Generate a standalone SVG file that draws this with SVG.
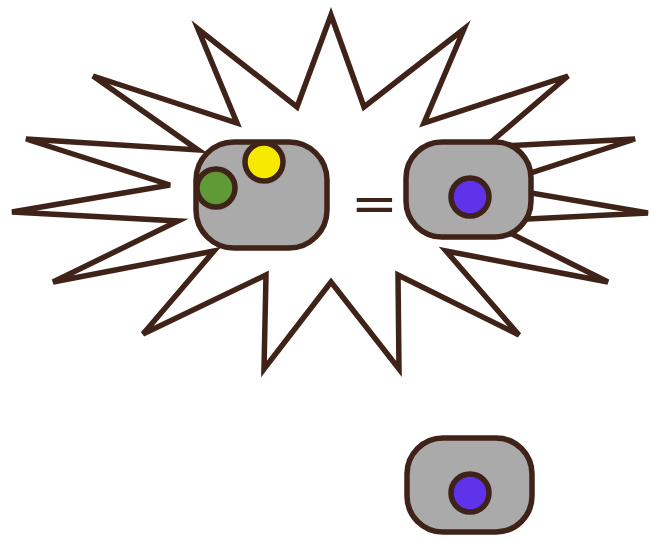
<svg xmlns="http://www.w3.org/2000/svg" width="651" height="540" viewBox="0 0 651 540">
<style>
.ln{stroke:#3f2318;stroke-width:5.5;stroke-linejoin:miter;stroke-miterlimit:4}
.star{fill:#ffffff}
.box{fill:#aaaaaa}
.eq{font-family:"DejaVu Sans",sans-serif;font-size:50px;fill:#3f2318}
</style>
<rect width="651" height="540" fill="#ffffff"/>
<g id="burst">
<polygon class="star ln" points="331,15 364,107 464,29 424,123 568,76 485,147 635,139 491,186 648,213 486,221 608,282 446,251 519,335 398,275 399,369 331,282 264,369 266,275 143,334 214,251 53,282 178,221 12,212 170,185 26,139 198,150 93,76 237,123 198,29 297,107"/>
</g>
<g id="box-left">
<rect class="box ln" x="196" y="142" width="131" height="106" rx="38" ry="38"/>
<circle class="ln" cx="264" cy="162" r="19" fill="#f7ea00"/>
<circle class="ln" cx="216" cy="188" r="19" fill="#5f9a36"/>
</g>
<g id="equals">
<text class="eq" transform="translate(374.5,221) scale(1.13,1)" text-anchor="middle">=</text>
</g>
<g id="box-right">
<rect class="box ln" x="406" y="142" width="125" height="95" rx="36" ry="36"/>
<circle class="ln" cx="470" cy="197" r="19" fill="#5e33ea"/>
</g>
<g id="box-bottom">
<rect class="box ln" x="407" y="438" width="125" height="94" rx="36" ry="36"/>
<circle class="ln" cx="470" cy="493" r="19" fill="#5e33ea"/>
</g>
<g id="connectors"></g>
</svg>
